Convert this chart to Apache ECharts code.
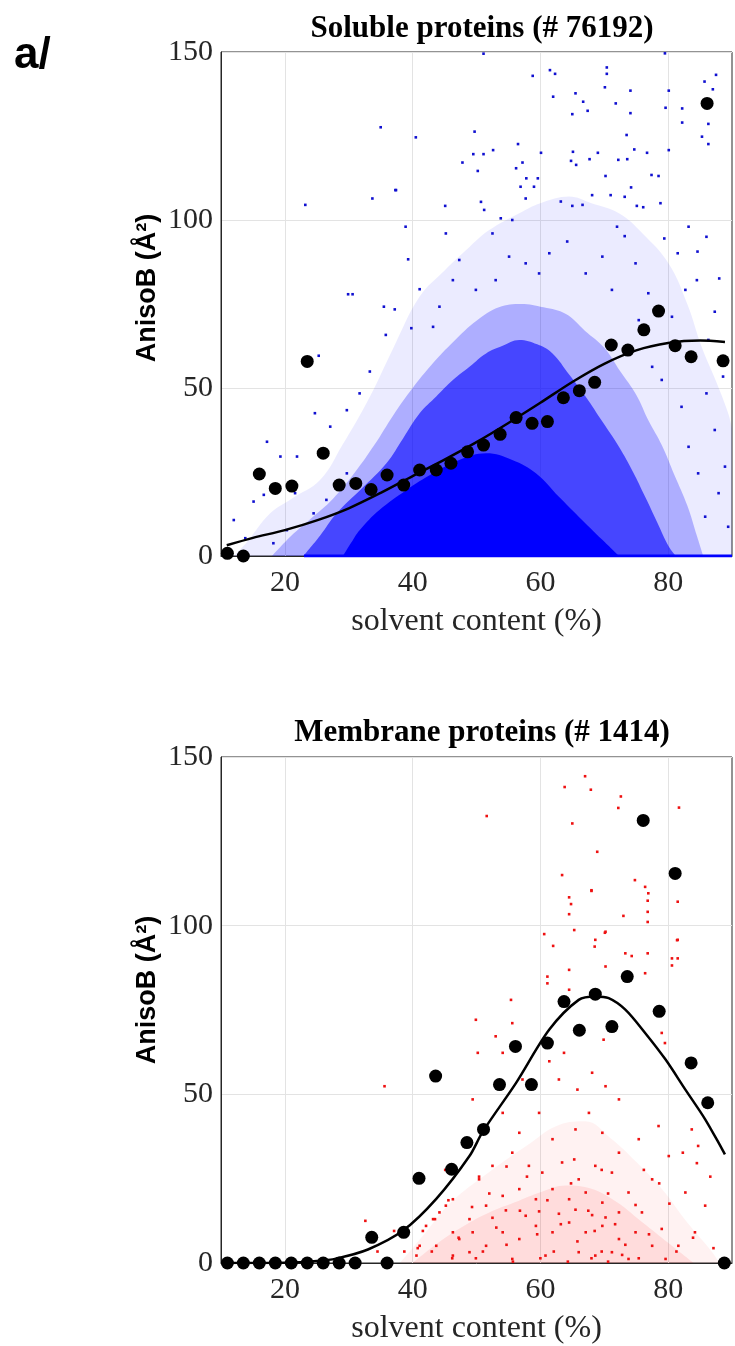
<!DOCTYPE html>
<html><head><meta charset="utf-8">
<script src="https://cdn.jsdelivr.net/npm/echarts@6/dist/echarts.min.js"></script>
<style>html,body{margin:0;padding:0;background:#fff}#c{width:735px;height:1346px}</style>
</head><body><div id="c"></div>
<script>
// ---------- tick labels / titles ----------
const xGridValues = [20, 40, 60, 80];
const yTickInterval = 50;
const titles = ['Soluble proteins (# 76192)', 'Membrane proteins (# 1414)'];
const xName = 'solvent content (%)';
const yName = 'AnisoB (Å²)';
const panelTag = 'a/';

// ---------- soluble proteins ----------
const solBinX = [11, 13.5, 16, 18.5, 21.1, 23.5, 26, 28.5, 31.1, 33.5, 36, 38.6, 41.1, 43.7, 46, 48.6, 51.1, 53.7, 56.2, 58.7, 61.1, 63.6, 66.1, 68.5, 71.1, 73.7, 76.2, 78.5, 81.1, 83.6, 86.1, 88.6];
const solBinY = [0.8, 0, 24.4, 20.1, 20.8, 57.9, 30.6, 21.1, 21.6, 19.8, 24.1, 21.1, 25.6, 25.6, 27.6, 31.0, 33.0, 36.2, 41.2, 39.5, 40.0, 47.1, 49.2, 51.7, 62.8, 61.3, 67.3, 72.9, 62.6, 59.3, 134.7, 58.1];
const solFitX = [10.9, 15, 20, 25, 30, 35, 40, 45, 50, 55, 60, 65, 70, 75, 80, 85, 88.9];
const solFitY = [3.2, 5.4, 7.7, 10.6, 14.2, 18.8, 23.8, 28.7, 33.9, 39.6, 45.6, 51.8, 57.2, 61.2, 63.4, 64.1, 63.7];
// upper edges of the point cloud at several density levels
const solSparseEdge = [[12,0],[14,4],[17.7,12.7],[21,17],[25.5,22.6],[29,33],[33.3,47.4],[37,62],[41.1,77.2],[45,85],[48.9,92],[52,97],[56.7,102],[60,105],[64.5,107],[68,105],[72.3,102],[76,96],[80.1,87],[83,75],[85.3,62],[87.5,52],[89.4,42.5],[90,38]];
const solMidEdge = [[18,0],[21,6],[24,11],[27.5,17],[31,25],[34,33],[37,42],[40,50],[43,57],[46.5,64],[50,70],[53.5,74],[57,75],[60.5,74],[64,72],[67,67],[70,62],[72.5,55],[75,48],[77,40],[79,33],[81,24],[83,15],[84.5,6],[85.5,0]];
const solDenseEdge = [[22.9,0],[25.5,6],[28.1,12.7],[32,20],[35.9,27.6],[38.5,35],[41.1,42.5],[43.7,47.5],[46.3,52.4],[49,56.5],[51.5,60.3],[54,62.5],[56.7,64.3],[59.5,63],[61.9,60.3],[64.5,54],[67.1,47.4],[69.7,40],[72.3,32.5],[74.5,25],[76.4,17.6],[78.3,10],[80.1,2.8],[81.2,0]];
const solCoreEdge = [[29.1,0],[30.4,4],[31.7,7.7],[34.8,13.7],[39,19.6],[43.2,24.6],[47.3,28.6],[51.5,30.6],[55.6,28.6],[59.3,24.6],[62.9,17.6],[66,11.7],[69.7,4.8],[72.3,0]];
const solZeroRow = [[23,0],[90,0]];
const solOutliers = [
 [23.2,104.5],[33.7,106.4],[37.3,108.9],[38.9,98.0],[45.1,104.2],[45.2,96.0],[39.3,88.3],[29.9,77.9],[30.6,77.9],[24.7,42.5],
 [17.2,34.0],[25.3,59.6],[35.5,74.2],[37.2,73.4],[35.8,65.8],[39.8,67.8],[41.1,79.4],[47.3,88.1],[50.7,105.4],[51.2,103.0],
 [52.5,96.0],[53.8,100.5],[55.6,100.0],[56.9,109.9],[57.7,106.4],[59.0,109.9],[63.2,105.5],[65.0,104.2],[66.6,104.5],[68.1,107.4],
 [71.0,107.4],[73.2,106.9],[74.2,109.7],[75.1,104.2],[76.1,103.8],[78.8,105.0],[72.0,98.0],[73.2,95.2],[79.4,94.5],[81.5,90.1],
 [83.2,98.0],[84.6,90.6],[86.0,95.0],[88.0,82.6],[87.3,72.7],[84.5,82.1],[82.7,79.2],[80.6,71.2],[86.3,64.3],[88.6,53.4],
 [86.0,48.4],[87.3,37.5],[88.9,26.6],[87.9,18.7],[85.8,11.7],[89.4,8.7],[83.2,32.5],[84.7,24.6],[82.1,44.4],[79.0,52.4],
 [77.5,56.3],[64.2,93.6],[61.4,90.1],[59.8,84.1],[57.7,87.1],[55.1,89.1],[53.0,82.1],[49.9,79.2],[67.1,84.1],[69.7,89.1],
 [74.9,87.1],[71.2,79.2],[76.9,78.2],[75.4,70.2],[44.2,74.2],[43.2,68.2],[46.3,82.1],[33.3,54.9],[31.7,48.4],[29.7,43.4],
 [27.1,38.5],[21.9,29.6],[19.3,29.6],[21.6,18.7],[15.1,16.2],[13.8,5.3],[12.0,10.7],[11.5,0.8],[18.2,3.8],[20.3,7.7],
 [24.5,12.7],[16.7,18.2],[26.5,16.7],[29.7,24.6],
 [58.8,142.9],[51.1,149.5],[61.5,144.6],[62.3,143.5],[62.0,136.7],[65.5,137.7],[66.7,135.2],[67.4,132.5],[65.0,131.5],[70.4,145.4],
 [70.4,143.5],[70.1,139.5],[71.8,134.7],[74.1,138.5],[74.1,131.8],[79.5,149.6],[80.1,138.5],[79.6,133.4],[82.2,133.2],[82.2,129.0],
 [85.7,141.2],[87.5,143.2],[87.0,138.9],[86.3,128.6],[85.3,124.8],[86.3,122.6],[73.5,125.3],[80.1,120.8],[76.7,120.0],[74.7,121.0],
 [73.6,118.1],[72.2,117.9],[69.0,120.0],[67.7,118.1],[65.1,120.3],[64.8,117.6],[65.6,116.4],[60.1,120.0],[57.2,117.1],[56.5,122.6],
 [56.2,115.4],[52.6,120.8],[51.1,119.6],[49.5,119.6],[47.8,117.1],[50.2,114.6],[49.7,126.3],[40.5,124.6],[35.0,127.6],[37.4,108.9],
 [57.8,112.4],[59.6,112.4],[70.2,113.1],[78.5,113.1],[77.4,113.4]
];

// ---------- membrane proteins ----------
const memBinX = [11, 13.5, 16, 18.5, 21, 23.5, 26, 28.5, 31, 33.6, 36, 38.6, 41, 43.6, 46.1, 48.5, 51.1, 53.6, 56.1, 58.6, 61.1, 63.7, 66.1, 68.6, 71.2, 73.6, 76.1, 78.6, 81.1, 83.6, 86.2, 88.8];
const memBinY = [0, 0, 0, 0, 0, 0, 0, 0, 0, 7.6, 0, 9.1, 25.1, 55.4, 27.8, 35.7, 39.6, 52.9, 64.2, 52.9, 65.2, 77.5, 69.0, 79.7, 70.1, 84.9, 131.2, 74.6, 115.5, 59.3, 47.5, 0];
const memFitX = [11, 20, 25, 28, 33, 38.5, 43.7, 48.9, 51, 56.2, 61.4, 66, 68.6, 70.7, 73.3, 76.4, 79.6, 82.7, 85.8, 88.9];
const memFitY = [0, 0.1, 0.6, 1.3, 4.0, 9.6, 19, 31.7, 39, 53.4, 69.2, 78, 79, 78.5, 75.1, 68.2, 60.3, 51.4, 42.6, 32.2];
const memOuterHazeEdge = [[38,0],[42,9],[46,18],[52,27],[58,35],[63,41],[67,42],[71,37],[75,30],[79,22],[83,12],[87,3],[88,0]];
const memHazeEdge = [[40,0],[44,6],[48,11],[52,15],[56,18],[60,21],[64,23],[68,22],[72,18],[76,12],[80,6],[84,0]];
const memPoints = [
 [64.5,108.4],[68.0,110.5],[76.9,109.6],[76.8,104.1],[70.2,98.2],[68.6,95.8],[65.3,98.7],[73.3,91.8],[81.5,95.8],[81.5,90.3],
 [80.6,90.3],[64.5,86.9],[70.2,87.9],[76.4,85.9],[61.1,84.9],[55.4,78.0],[64.5,81.0],[69.9,66.2],[79.0,68.2],[79.5,65.2],
 [63.7,62.3],[61.4,59.8],[62.9,54.4],[65.8,51.4],[68.1,56.4],[70.2,52.4],[72.3,48.5],[55.6,71.1],[54.1,62.3],[57.2,54.4],
 [49.9,72.1],[50.2,62.3],[49.4,48.5],[53.0,67.2],[54.1,44.5],[56.7,38.6],[59.8,44.5],[61.9,36.7],[65.5,39.6],[67.6,44.5],
 [69.7,38.6],[72.3,32.7],[75.4,36.7],[78.5,40.6],[83.7,39.6],[84.7,34.7],[77.5,24.8],[80.1,31.7],[82.7,20.9],[85.8,17.0],
 [84.2,9.1],[81.6,5.1],[79.0,10.1],[75.9,15.0],[73.8,20.9],[71.2,26.8],[68.6,28.8],[66.0,24.8],[63.4,29.8],[60.3,26.8],
 [58.2,28.8],[55.6,32.7],[52.5,28.8],[50.4,24.8],[46.3,18.9],[44.2,15.0],[42.1,11.0],[41.1,5.1],[43.7,5.1],[46.3,9.1],
 [48.9,13.0],[51.5,17.0],[54.1,19.9],[56.7,21.9],[59.3,18.9],[61.9,21.9],[64.5,18.9],[67.1,20.9],[69.7,17.9],[72.3,15.0],
 [74.9,9.1],[77.5,5.1],[72.3,7.1],[69.7,11.0],[67.1,9.1],[64.5,12.0],[61.9,9.1],[59.3,11.0],[56.7,7.1],[54.1,9.1],
 [51.5,5.1],[48.9,3.2],[46.3,2.2],[55.6,1.2],[60.8,2.2],[66.0,3.2],[68.6,2.2],[71.2,3.2],[73.8,1.2],[79.6,1.2],
 [40.6,2.2],[43.2,13.0],[45.2,17.0],[47.3,7.1],[49.4,9.1],[52.5,13.4],[54.6,15.6],[57.7,14.0],[59.8,15.3],[62.9,14.6],
 [65.5,15.8],[68.1,14.2],[70.2,13.5],
 [67.0,144.3],[63.8,141.1],[67.9,140.3],[51.6,132.5],[72.6,138.3],[72.2,134.9],[81.7,135.0],[65.0,130.3],[68.9,121.9],[63.4,115.0],
 [68.0,110.3],[64.8,106.4],[64.5,103.4],[74.8,113.5],[76.4,111.5],[76.8,107.4],[76.8,101.1],[81.5,107.1],[73.0,102.9],[60.6,97.5],
 [62.0,94.0],[68.5,93.8],[70.1,97.9],[81.4,95.7],[74.3,91.0],[76.8,91.8],[80.6,88.2],[61.1,82.9],[35.6,52.4],
 [43.5,13.0],[41.6,9.5],[40.8,4.4],[45.6,18.6],[47.2,7.5],[49.3,16.6],[51.0,3.4],[52.0,20.6],[53.1,10.5],[54.7,5.4],
 [56.8,15.5],[57.9,25.6],[59.5,8.5],[61.1,18.6],[62.1,3.4],[63.2,11.5],[64.8,23.6],[65.8,6.4],[67.5,15.5],[68.5,9.5],
 [69.6,3.4],[70.6,20.6],[71.7,11.5],[73.3,5.4],[74.9,17.2],[77.0,8.5],[78.6,23.6],[81.3,3.4],[83.9,7.5],[87.1,4.4],
 [84.5,29.6],[86.6,25.6],[82.3,32.7],[80.2,17.6],[76.2,27.6],[69.6,27.6],[65.3,30.7],[54.7,28.6],[50.4,25.6],[45.1,27.6],
 [43.0,3.4],[46.2,1.4],[49.9,1.4],[55.7,0.4],[60.0,1.4],[64.3,0.4],[68.0,1.4],[70.6,0.4],[72.8,2.4],[75.4,1.4],
 [32.6,12.5],[34.5,3.4],[37.1,9.5],[38.7,3.4]
];

const pair = (xs, ys) => xs.map((x, i) => [x, ys[i]]);

const serif = "'Liberation Serif','Times New Roman',serif";
const axisCol = '#262626';
const gridCol = '#e3e3e3';

function xAxisFor(gi) {
  return {
    type: 'value', gridIndex: gi, min: 10, max: 90, interval: 10,
    axisLine: { show: true, lineStyle: { color: axisCol, width: 1 } },
    axisTick: { show: false },
    splitLine: { show: false },
    axisLabel: { fontFamily: serif, fontSize: 30, color: axisCol, margin: 12,
      formatter: v => (xGridValues.indexOf(v) >= 0 ? String(v) : '') },
    name: xName, nameLocation: 'middle', nameGap: 50,
    nameTextStyle: { fontFamily: serif, fontSize: 32, color: axisCol }
  };
}
function yAxisFor(gi) {
  return {
    type: 'value', gridIndex: gi, min: 0, max: 150, interval: yTickInterval,
    axisLine: { show: true, lineStyle: { color: axisCol, width: 1 } },
    axisTick: { show: false },
    splitLine: { show: true, lineStyle: { color: gridCol, width: 1 } },
    axisLabel: { fontFamily: serif, fontSize: 30, color: axisCol, margin: 8 }
  };
}
function area(gi, data, color, z) {
  return { type: 'line', xAxisIndex: gi, yAxisIndex: gi, data, smooth: 0.4, symbol: 'none', silent: true,
    lineStyle: { width: 0 }, areaStyle: { color, opacity: 1 }, z };
}
function vGrid(gi) {
  return { type: 'line', xAxisIndex: gi, yAxisIndex: gi, data: [], silent: true, z: 1,
    markLine: { silent: true, z: 1, symbol: 'none', label: { show: false }, animation: false,
      lineStyle: { color: gridCol, width: 1, type: 'solid' },
      emphasis: { disabled: true },
      data: xGridValues.map(v => ({ xAxis: v })) } };
}

const chart = echarts.init(document.getElementById('c'), null, { renderer: 'canvas' });
chart.setOption({
  backgroundColor: '#fff',
  animation: false,
  title: [
    { text: titles[0], left: 477, top: 8, textAlign: 'center',
      textStyle: { fontFamily: serif, fontWeight: 'bold', fontSize: 31, color: '#000' } },
    { text: titles[1], left: 477, top: 712, textAlign: 'center',
      textStyle: { fontFamily: serif, fontWeight: 'bold', fontSize: 31, color: '#000' } }
  ],
  graphic: [
    { type: 'text', left: 14, top: 34, style: { text: panelTag, font: "bold 44px 'Liberation Sans', Arial, sans-serif", fill: '#000' } },
    { type: 'text', x: 148, y: 288, rotation: Math.PI / 2,
      style: { text: yName, font: "bold 27px 'Liberation Sans', Arial, sans-serif", fill: '#000', align: 'center', verticalAlign: 'middle' } },
    { type: 'text', x: 148, y: 990, rotation: Math.PI / 2,
      style: { text: yName, font: "bold 27px 'Liberation Sans', Arial, sans-serif", fill: '#000', align: 'center', verticalAlign: 'middle' } }
  ],
  grid: [
    { left: 221, right: 1, top: 52, height: 504, show: true, borderColor: axisCol, borderWidth: 1, backgroundColor: 'transparent' },
    { left: 221, right: 1, top: 757, height: 507, show: true, borderColor: axisCol, borderWidth: 1, backgroundColor: 'transparent' }
  ],
  xAxis: [xAxisFor(0), xAxisFor(1)],
  yAxis: [yAxisFor(0), yAxisFor(1)],
  series: [
    vGrid(0),
    vGrid(1),
    // soluble cloud
    area(0, solSparseEdge, 'rgba(0,0,255,0.08)', 2),
    area(0, solMidEdge, 'rgba(0,0,255,0.26)', 2),
    area(0, solDenseEdge, 'rgba(0,0,255,0.6)', 2),
    area(0, solCoreEdge, 'rgb(0,0,255)', 2),
    { type: 'line', xAxisIndex: 0, yAxisIndex: 0, data: solZeroRow, symbol: 'none', silent: true,
      lineStyle: { color: '#0000ff', width: 3 }, z: 3 },
    { type: 'scatter', xAxisIndex: 0, yAxisIndex: 0, data: solOutliers, symbol: 'rect', symbolSize: 2.6,
      itemStyle: { color: '#1010d0', opacity: 1 }, silent: true, z: 3 },
    { type: 'line', xAxisIndex: 0, yAxisIndex: 0, data: pair(solFitX, solFitY), smooth: 0.3, symbol: 'none',
      lineStyle: { color: '#000', width: 2.5 }, z: 4 },
    { type: 'scatter', xAxisIndex: 0, yAxisIndex: 0, data: pair(solBinX, solBinY), symbol: 'circle', symbolSize: 13,
      itemStyle: { color: '#000', opacity: 1 }, clip: false, z: 5 },
    // membrane cloud
    area(1, memOuterHazeEdge, 'rgba(255,0,0,0.05)', 2),
    area(1, memHazeEdge, 'rgba(255,0,0,0.09)', 2),
    { type: 'scatter', xAxisIndex: 1, yAxisIndex: 1, data: memPoints, symbol: 'rect', symbolSize: 2.6,
      itemStyle: { color: '#ee1111', opacity: 1 }, silent: true, z: 3 },
    { type: 'line', xAxisIndex: 1, yAxisIndex: 1, data: pair(memFitX, memFitY), smooth: 0.3, symbol: 'none',
      lineStyle: { color: '#000', width: 2.5 }, z: 4 },
    { type: 'scatter', xAxisIndex: 1, yAxisIndex: 1, data: pair(memBinX, memBinY), symbol: 'circle', symbolSize: 13,
      itemStyle: { color: '#000', opacity: 1 }, clip: false, z: 5 }
  ]
});
</script>
</body></html>
